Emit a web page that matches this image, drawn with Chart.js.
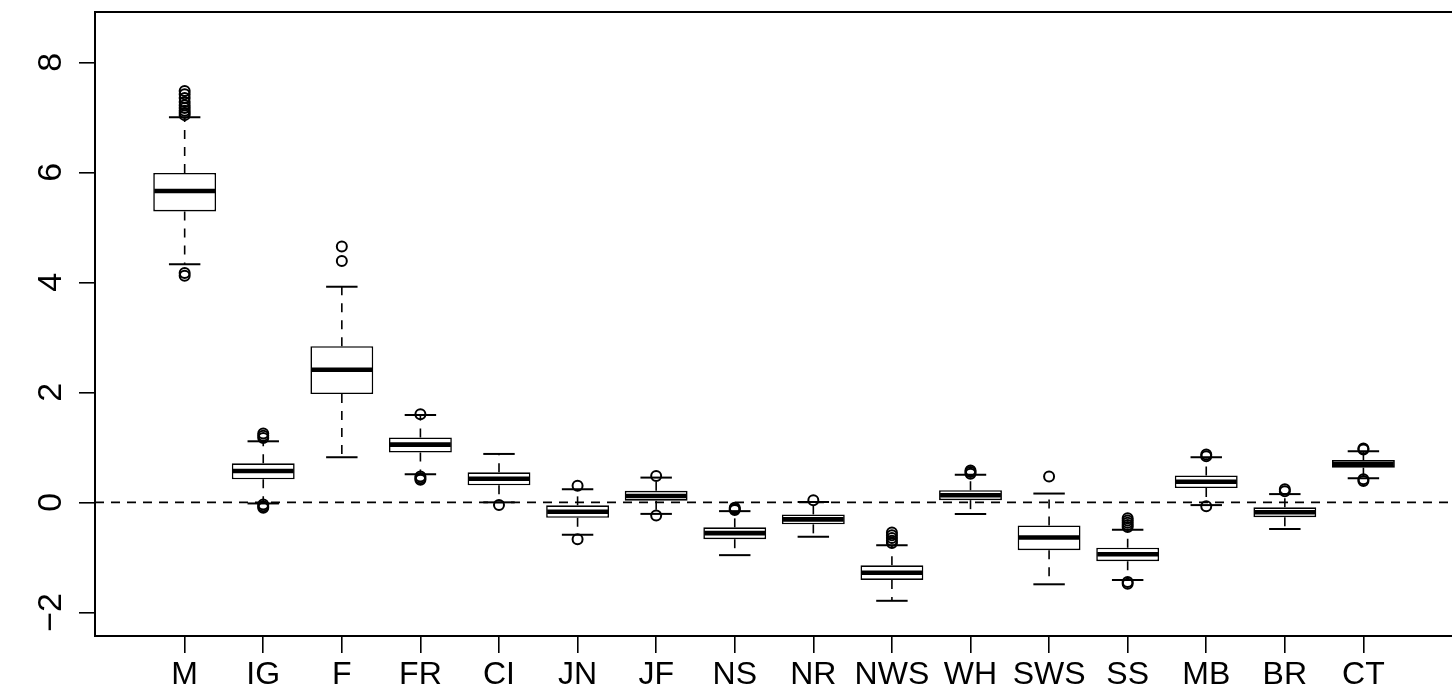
<!DOCTYPE html>
<html>
<head>
<meta charset="utf-8">
<title>Boxplot</title>
<script src="https://cdn.jsdelivr.net/npm/chart.js@4.4.1/dist/chart.umd.min.js"></script>
<style>
  html, body { margin: 0; padding: 0; background: #fff; overflow: hidden; }
  #wrap { width: 1460px; height: 700px; }
</style>
</head>
<body>
<div id="wrap"><canvas id="boxChart" width="1460" height="700"></canvas></div>
<script>
// categories along the x axis
const categories = ['M', 'IG', 'F', 'FR', 'CI', 'JN', 'JF', 'NS', 'NR', 'NWS', 'WH', 'SWS', 'SS', 'MB', 'BR', 'CT'];

// box statistics
const lowerWhisker  = [4.33, -0.02, 0.82, 0.51, 0.00, -0.59, -0.21, -0.96, -0.625, -1.79, -0.21, -1.49, -1.41, -0.05, -0.485, 0.44];
const lowerQuartile = [5.29, 0.42, 1.97, 0.905, 0.31, -0.28, 0.03, -0.67, -0.40, -1.41, 0.04, -0.87, -1.07, 0.26, -0.27, 0.63];
const medians       = [5.66, 0.57, 2.41, 1.05, 0.43, -0.17, 0.115, -0.56, -0.31, -1.28, 0.13, -0.64, -0.945, 0.375, -0.18, 0.70];
const upperQuartile = [5.99, 0.71, 2.84, 1.18, 0.545, -0.055, 0.21, -0.455, -0.22, -1.145, 0.22, -0.42, -0.825, 0.49, -0.09, 0.77];
const upperWhisker  = [7.00, 1.11, 3.92, 1.59, 0.88, 0.24, 0.45, -0.16, 0.005, -0.78, 0.50, 0.16, -0.50, 0.82, 0.15, 0.93];

// outlying points per category
const outliers = [
  [7.48, 7.42, 7.35, 7.28, 7.22, 7.17, 7.12, 7.08, 7.04, 4.17, 4.12],
  [1.25, 1.21, 1.17, -0.04, -0.07, -0.1],
  [4.65, 4.39],
  [1.6, 0.47, 0.44, 0.41],
  [-0.05],
  [0.3, -0.67],
  [0.48, -0.24],
  [-0.1, -0.12, -0.14],
  [0.04],
  [-0.55, -0.6, -0.65, -0.7, -0.74],
  [0.58, 0.55, 0.52],
  [0.47],
  [-0.29, -0.33, -0.37, -0.41, -0.45, -1.45, -1.48],
  [0.87, 0.84, -0.07],
  [0.24, 0.2],
  [0.98, 0.96, 0.42, 0.39]
];

const yTicks = [-2, 0, 2, 4, 6, 8];

const boxWidth = 0.8;   // in category units
const capWidth = 0.4;

function seg(ctx, x1, y1, x2, y2) {
  ctx.beginPath();
  ctx.moveTo(x1, y1);
  ctx.lineTo(x2, y2);
  ctx.stroke();
}

// whiskers, caps, medians, zero line and frame, all placed through the scales
const boxplotLines = {
  id: 'boxplotLines',
  beforeDatasetsDraw(chart) {
    const { ctx, scales: { x, y } } = chart;
    ctx.save();
    ctx.strokeStyle = '#000';
    categories.forEach((c, i) => {
      const px = x.getPixelForValue(i + 1);
      const half = x.getPixelForValue(i + 1 + capWidth / 2) - px;
      ctx.lineWidth = 1.6;
      ctx.setLineDash([9, 8]);
      seg(ctx, px, y.getPixelForValue(upperQuartile[i]), px, y.getPixelForValue(upperWhisker[i]));
      seg(ctx, px, y.getPixelForValue(lowerQuartile[i]), px, y.getPixelForValue(lowerWhisker[i]));
      ctx.setLineDash([]);
      ctx.lineWidth = 2;
      seg(ctx, px - half, y.getPixelForValue(upperWhisker[i]), px + half, y.getPixelForValue(upperWhisker[i]));
      seg(ctx, px - half, y.getPixelForValue(lowerWhisker[i]), px + half, y.getPixelForValue(lowerWhisker[i]));
    });
    ctx.restore();
  },
  afterDatasetsDraw(chart) {
    const { ctx, chartArea, scales: { x, y } } = chart;
    ctx.save();
    ctx.strokeStyle = '#000';
    ctx.lineWidth = 4.6;
    categories.forEach((c, i) => {
      const px = x.getPixelForValue(i + 1);
      const half = x.getPixelForValue(i + 1 + boxWidth / 2) - px;
      const py = y.getPixelForValue(medians[i]);
      seg(ctx, px - half + 1, py, px + half - 1, py);
    });
    // dashed reference line at zero
    ctx.lineWidth = 1.6;
    ctx.setLineDash([9, 7]);
    const y0 = y.getPixelForValue(0);
    seg(ctx, chartArea.left, y0, chartArea.right, y0);
    ctx.setLineDash([]);
    // plot frame
    ctx.lineWidth = 2;
    ctx.strokeRect(chartArea.left, chartArea.top, chartArea.right - chartArea.left, chartArea.bottom - chartArea.top);
    ctx.restore();
  }
};

const ctx = document.getElementById('boxChart').getContext('2d');

new Chart(ctx, {
  type: 'bar',
  data: {
    datasets: [
      {
        type: 'bar',
        data: categories.map((c, i) => ({ x: i + 1, y: [lowerQuartile[i], upperQuartile[i]] })),
        backgroundColor: '#ffffff',
        borderColor: '#000000',
        borderWidth: 1.6,
        borderSkipped: false,
        barPercentage: boxWidth,
        categoryPercentage: 1,
        grouped: false
      },
      {
        type: 'scatter',
        data: outliers.flatMap((vals, i) => vals.map(v => ({ x: i + 1, y: v }))),
        pointStyle: 'circle',
        pointRadius: 5,
        pointBackgroundColor: 'rgba(0,0,0,0)',
        pointBorderColor: '#000000',
        pointBorderWidth: 2
      }
    ]
  },
  options: {
    responsive: false,
    devicePixelRatio: 1,
    animation: false,
    layout: { padding: { top: 12, right: 2, left: 0, bottom: 0 } },
    plugins: {
      legend: { display: false },
      tooltip: { enabled: false }
    },
    scales: {
      x: {
        type: 'linear',
        min: -0.141,
        max: 17.14,
        offset: false,
        afterBuildTicks: (s) => { s.ticks = categories.map((c, i) => ({ value: i + 1 })); },
        afterFit: (s) => { s.height = 64; s.paddingLeft = 0; s.paddingRight = 0; },
        ticks: {
          autoSkip: false,
          maxRotation: 0,
          padding: 3,
          color: '#000',
          font: { family: "'Liberation Sans', Arial, sans-serif", size: 32 },
          callback: (v, idx) => categories[idx]
        },
        grid: { offset: false, drawOnChartArea: false, drawTicks: true, tickLength: 17, color: '#000', lineWidth: 1.6 },
        border: { display: false }
      },
      y: {
        type: 'linear',
        min: -2.43,
        max: 8.915,
        afterBuildTicks: (s) => { s.ticks = yTicks.map(v => ({ value: v })); },
        afterFit: (s) => { s.width = 95; s.paddingTop = 0; s.paddingBottom = 0; },
        ticks: {
          minRotation: 90,
          maxRotation: 90,
          crossAlign: 'center',
          padding: 8,
          color: '#000',
          font: { family: "'Liberation Sans', Arial, sans-serif", size: 34 },
          callback: (v) => v < 0 ? '\u2212' + Math.abs(v) : String(v)
        },
        grid: { drawOnChartArea: false, drawTicks: true, tickLength: 16, color: '#000', lineWidth: 1.6 },
        border: { display: false }
      }
    }
  },
  plugins: [boxplotLines]
});
</script>
</body>
</html>
